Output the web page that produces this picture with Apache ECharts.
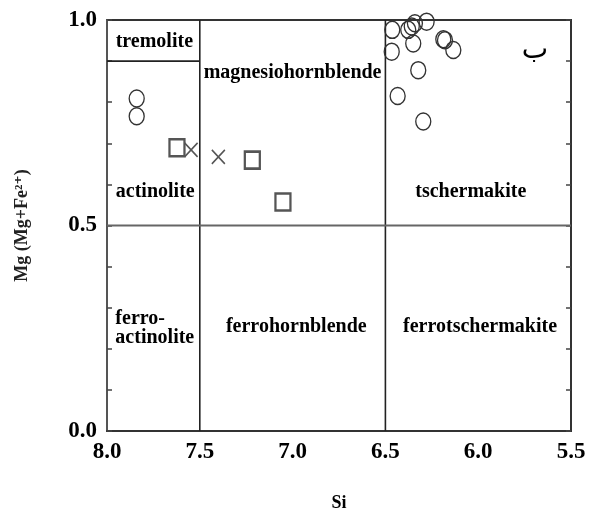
<!DOCTYPE html>
<html>
<head>
<meta charset="utf-8">
<script src="https://cdn.jsdelivr.net/npm/echarts@6/dist/echarts.min.js"></script>
<style>
  html, body { margin: 0; padding: 0; background: #fff; }
  #chart { width: 589px; height: 510px; }
</style>
</head>
<body>
<div id="chart"></div>
<script>
// Amphibole classification: Mg/(Mg+Fe2+) versus Si (apfu)
const xTickLabels = ['8.0', '7.5', '7.0', '6.5', '6.0', '5.5'];
const yTickLabels = ['0.0', '0.5', '1.0'];

// analyses plotted as open circles [Si, Mg/(Mg+Fe2+)]
const circlePoints = [
  [7.84, 0.809], [7.84, 0.766],
  [6.463, 0.976], [6.466, 0.923],
  [6.377, 0.976], [6.358, 0.984], [6.341, 0.992], [6.350, 0.943],
  [6.278, 0.996],
  [6.188, 0.953], [6.179, 0.951], [6.134, 0.927],
  [6.323, 0.878], [6.434, 0.815], [6.296, 0.753]
];
// analyses plotted as open squares
const squarePoints = [[7.623, 0.689], [7.217, 0.659], [7.052, 0.557]];
// analyses plotted as crosses
const crossPoints = [[7.547, 0.684], [7.40, 0.667]];

// field boundaries of the diagram
const boundaryLines = [
  [[7.5, 0], [7.5, 1]],
  [[6.5, 0], [6.5, 1]],
  [[8.0, 0.5], [5.5, 0.5]],
  [[8.0, 0.9], [7.5, 0.9]]
];

// field names and where they sit [Si, Mg]
const fieldNames = ['tremolite', 'magnesiohornblende', 'actinolite', 'tschermakite',
                    'ferro-\nactinolite', 'ferrohornblende', 'ferrotschermakite'];
const fieldAnchors = [[7.745, 0.948], [7.0, 0.872], [7.74, 0.582], [6.04, 0.582],
                      [7.955, 0.25], [6.98, 0.253], [5.99, 0.253]];
const panelMark = 'ب';
const panelMarkAnchor = [5.694, 0.925];

const serif = '"Liberation Serif", "DejaVu Serif", serif';

const chart = echarts.init(document.getElementById('chart'), null, { renderer: 'canvas' });

const lineSeries = boundaryLines.map((seg, i) => ({
  type: 'line',
  data: seg,
  symbol: 'none',
  silent: true,
  z: 1,
  lineStyle: {
    color: i === 2 ? '#666' : '#222',
    width: i === 2 ? 2.2 : 1.6
  }
}));

const labelData = fieldNames.map((n, i) => ({
  value: fieldAnchors[i],
  name: n,
  label: i === 4 ? { align: 'left', lineHeight: 19 } : {}
}));
labelData.push({
  value: panelMarkAnchor,
  name: panelMark,
  label: { fontFamily: '"DejaVu Sans", sans-serif', fontWeight: 'normal', fontSize: 28, color: '#000' }
});

const option = {
  animation: false,
  backgroundColor: '#fff',
  grid: {
    left: 107, right: 18, top: 20, bottom: 79,
    outerBoundsMode: 'none',
    containLabel: false,
    show: true, borderColor: '#333', borderWidth: 2
  },
  xAxis: {
    type: 'value',
    min: 5.5, max: 8.0, interval: 0.5,
    inverse: true,
    name: 'Si',
    nameLocation: 'middle',
    nameGap: 63,
    nameTextStyle: { fontFamily: serif, fontWeight: 'bold', fontSize: 18, color: '#000' },
    axisLine: { lineStyle: { color: '#333', width: 2 } },
    axisTick: { show: false },
    splitLine: { show: false },
    axisLabel: {
      margin: 10,
      fontFamily: serif, fontWeight: 'bold', fontSize: 23, color: '#000',
      formatter: v => {
        const s = v.toFixed(1);
        return xTickLabels.includes(s) ? s : '';
      }
    }
  },
  yAxis: [{
    type: 'value',
    min: 0, max: 1.0, interval: 0.1,
    name: 'Mg (Mg+Fe²⁺)',
    nameLocation: 'middle',
    nameGap: 76,
    nameRotate: 90,
    nameTextStyle: { fontFamily: serif, fontWeight: 'bold', fontSize: 18, color: '#222' },
    axisLine: { lineStyle: { color: '#555', width: 2 } },
    axisTick: { inside: true, length: 5, lineStyle: { color: '#444', width: 1.5 } },
    splitLine: { show: false },
    axisLabel: {
      margin: 10,
      fontFamily: serif, fontWeight: 'bold', fontSize: 23, color: '#000',
      formatter: v => {
        const s = v.toFixed(1);
        return yTickLabels.includes(s) ? s : '';
      }
    }
  }, {
    type: 'value',
    position: 'right',
    min: 0, max: 1.0, interval: 0.1,
    axisLine: { show: true, lineStyle: { color: '#333', width: 2 } },
    axisTick: { inside: true, length: 5, lineStyle: { color: '#444', width: 1.5 } },
    axisLabel: { show: false },
    splitLine: { show: false }
  }],
  series: [
    ...lineSeries,
    {
      type: 'scatter',
      data: circlePoints,
      symbol: 'circle',
      symbolSize: [15, 17],
      z: 3,
      itemStyle: { opacity: 1, color: 'rgba(0,0,0,0)', borderColor: '#333', borderWidth: 1.4 }
    },
    {
      type: 'scatter',
      data: squarePoints,
      symbol: 'rect',
      symbolSize: [15, 17],
      z: 3,
      itemStyle: { opacity: 1, color: 'rgba(0,0,0,0)', borderColor: '#555', borderWidth: 2.4 }
    },
    {
      type: 'scatter',
      data: crossPoints,
      symbol: 'path://M0,0L10,10M10,0L0,10',
      symbolSize: [13, 14],
      z: 3,
      itemStyle: { opacity: 1, color: 'rgba(0,0,0,0)', borderColor: '#555', borderWidth: 1.6 }
    },
    {
      type: 'scatter',
      data: labelData,
      symbolSize: 0,
      silent: true,
      z: 4,
      itemStyle: { opacity: 1 },
      label: {
        show: true,
        position: 'inside',
        formatter: p => p.name,
        fontFamily: serif,
        fontWeight: 'bold',
        fontSize: 20,
        color: '#000'
      }
    }
  ]
};

chart.setOption(option);
</script>
</body>
</html>
